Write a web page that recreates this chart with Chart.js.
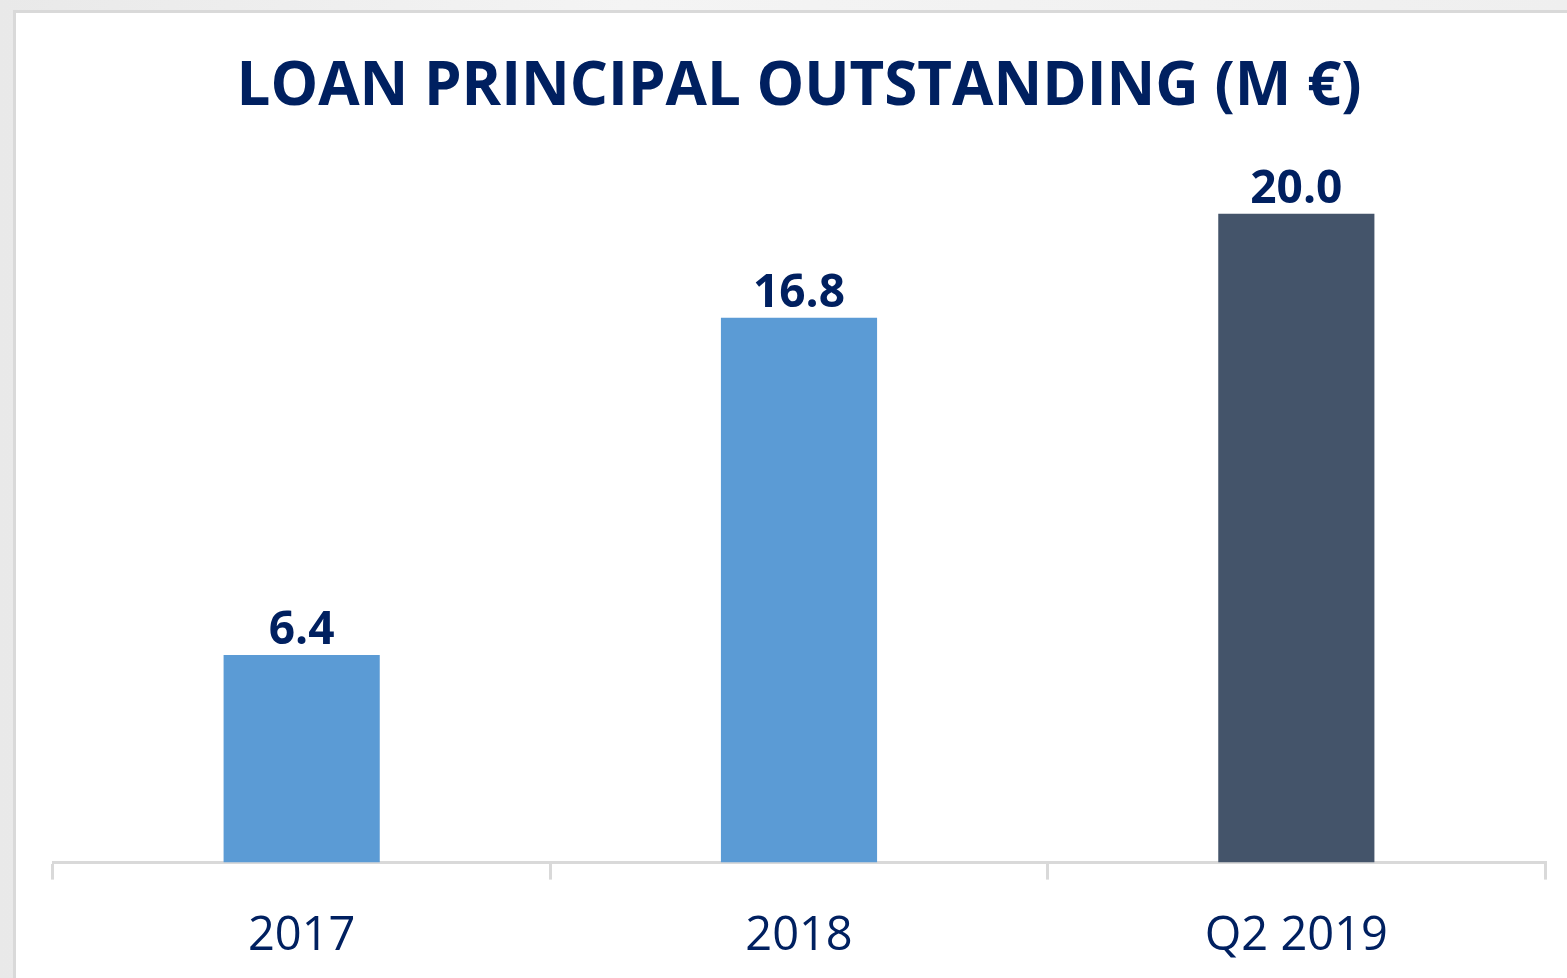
<!DOCTYPE html>
<html>
<head>
<meta charset="utf-8">
<title>Loan principal outstanding</title>
<script src="https://cdn.jsdelivr.net/npm/chart.js@4/dist/chart.umd.min.js"></script>
<style>
    html, body { margin: 0; padding: 0; }
    body {
        width: 1567px;
        height: 978px;
        overflow: hidden;
        position: relative;
        background: linear-gradient(90deg, #e9e9e9 0%, #f4f4f4 40%, #efefef 100%);
    }
    .card {
        position: absolute;
        left: 13px;
        top: 10px;
        width: 1600px;
        height: 1000px;
        background: #ffffff;
        border: 3px solid #d9d9d9;
    }
    #chart {
        position: absolute;
        left: 0;
        top: 0;
    }
</style>
</head>
<body>
<div class="card"></div>
<!-- canvas runs a little past the bottom edge so the axis sits where it does in the slide -->
<canvas id="chart" width="1567" height="1011"></canvas>
<script>
// Chart data
const categories = ['2017', '2018', 'Q2 2019'];
const principal = [6.4, 16.8, 20.0];
const barColors = ['#5B9BD5', '#5B9BD5', '#44546A'];

const navy = '#002060';

// Value labels above each bar
const valueLabels = {
    id: 'valueLabels',
    afterDatasetsDraw(chart) {
        const ctx = chart.ctx;
        const meta = chart.getDatasetMeta(0);
        ctx.save();
        ctx.font = 'bold 46px "Open Sans"';
        ctx.fillStyle = navy;
        ctx.textAlign = 'center';
        ctx.textBaseline = 'alphabetic';
        meta.data.forEach(function(bar, i) {
            ctx.fillText(principal[i].toFixed(1), bar.x, bar.y - 11);
        });
        ctx.restore();
    }
};

document.addEventListener('DOMContentLoaded', function() {
    const ctx = document.getElementById('chart');

    new Chart(ctx, {
        type: 'bar',
        data: {
            labels: categories,
            datasets: [{
                label: 'Loan principal outstanding (M €)',
                data: principal,
                backgroundColor: barColors,
                borderWidth: 0,
                categoryPercentage: 1,
                barPercentage: 0.314
            }]
        },
        options: {
            responsive: false,
            animation: false,
            layout: {
                padding: { top: 0, left: 53, right: 22, bottom: 17 }
            },
            plugins: {
                legend: { display: false },
                tooltip: { enabled: false },
                title: {
                    display: true,
                    text: 'LOAN PRINCIPAL OUTSTANDING (M €)',
                    color: navy,
                    font: { family: 'Open Sans', size: 60, weight: 'bold' },
                    padding: { top: 52, bottom: 25 }
                }
            },
            scales: {
                x: {
                    grid: {
                        display: true,
                        drawOnChartArea: false,
                        drawTicks: true,
                        tickLength: 17,
                        color: '#d9d9d9',
                        lineWidth: 3
                    },
                    border: { display: true, color: '#d9d9d9', width: 3 },
                    ticks: {
                        color: navy,
                        padding: 29,
                        font: { family: 'Open Sans', size: 47 }
                    }
                },
                y: {
                    display: false,
                    min: 0,
                    max: 22
                }
            }
        },
        plugins: [valueLabels]
    });
});
</script>
</body>
</html>
